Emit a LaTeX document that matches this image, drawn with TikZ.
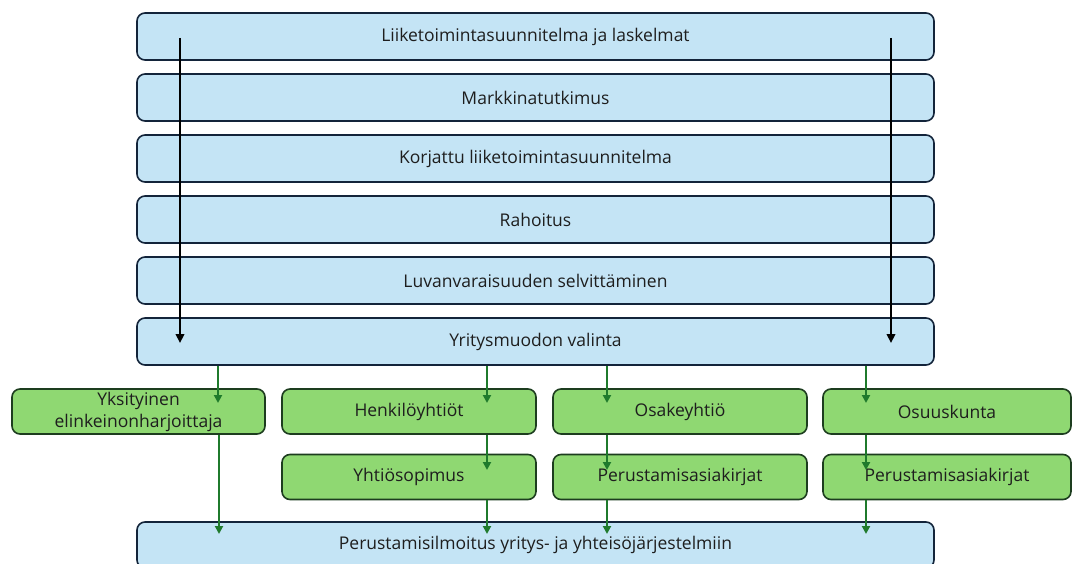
\documentclass[tikz,border=0pt]{standalone}
\usepackage{fontspec}
\setmainfont{Open Sans}
\usetikzlibrary{arrows.meta}
\definecolor{bluefill}{HTML}{C4E4F5}
\definecolor{blueedge}{HTML}{13243A}
\definecolor{greenfill}{HTML}{8FD872}
\definecolor{greenedge}{HTML}{1D3D1F}
\definecolor{garrowc}{HTML}{1F7A2C}
\definecolor{txt}{HTML}{1E1E1E}
\tikzset{
  bluebox/.style={draw=blueedge, fill=bluefill, line width=1.6pt, rounded corners=8pt,
    minimum width=797pt, minimum height=47pt, inner sep=0pt, text=txt,
    font=\fontsize{17.5}{22}\selectfont},
  greenbox/.style={draw=greenedge, fill=greenfill, line width=1.6pt, rounded corners=8pt,
    minimum height=45pt, inner sep=0pt, text=txt, align=center,
    font=\fontsize{17.5}{22}\selectfont},
  blackarrow/.style={draw=black, line width=2.6pt, -{Triangle[length=9pt,width=8.5pt]}},
  greenarrow/.style={draw=garrowc, line width=2.6pt, -{Triangle[length=8pt,width=8pt]}}
}
\begin{document}
\begin{tikzpicture}[x=1pt,y=-1pt]
\useasboundingbox (0,0) rectangle (1074,564);
\clip (0,0) rectangle (1074,564);
% blue boxes
\node[bluebox] (b1) at (535.5,36.5) {Liiketoimintasuunnitelma ja laskelmat};
\node[bluebox] (b2) at (535.5,97.5) {Markkinatutkimus};
\node[bluebox] (b3) at (535.5,158.5) {Korjattu liiketoimintasuunnitelma};
\node[bluebox] (b4) at (535.5,219.5) {Rahoitus};
\node[bluebox] (b5) at (535.5,280.5) {Luvanvaraisuuden selvittäminen};
\node[bluebox] (b6) at (535.5,341.5) {Yritysmuodon valinta};
\node[bluebox, minimum height=46pt] (b7) at (535.5,545) {Perustamisilmoitus yritys- ja yhteisöjärjestelmiin};
% green boxes
\node[greenbox, minimum width=253pt] (g1) at (138.5,411.5) {Yksityinen\\elinkeinonharjoittaja};
\node[greenbox, minimum width=254pt] (g2) at (409,411.5) {Henkilöyhtiöt};
\node[greenbox, minimum width=254pt] (g3) at (680,411.5) {Osakeyhtiö};
\node[greenbox, minimum width=248pt] (g4) at (947,411.5) {Osuuskunta};
\node[greenbox, minimum width=254pt] (h2) at (409,477) {Yhtiösopimus};
\node[greenbox, minimum width=254pt] (h3) at (680,477) {Perustamisasiakirjat};
\node[greenbox, minimum width=248pt] (h4) at (947,477) {Perustamisasiakirjat};
% black arrows
\coordinate (la) at (180,38);
\coordinate (lb) at (180,343);
\coordinate (ra) at (891,38);
\coordinate (rb) at (891,343);
\draw[blackarrow] (la) -- (lb);
\draw[blackarrow] (ra) -- (rb);
% green arrows: Yritysmuodon valinta -> forms
\coordinate (t1) at (218,403);
\coordinate (t2) at (487,403);
\coordinate (t3) at (607,403);
\coordinate (t4) at (866,403);
\draw[greenarrow] (b6.south -| t1) -- (t1);
\draw[greenarrow] (b6.south -| t2) -- (t2);
\draw[greenarrow] (b6.south -| t3) -- (t3);
\draw[greenarrow] (b6.south -| t4) -- (t4);
% forms -> documents
\coordinate (u2) at (487,470);
\coordinate (u3) at (607,470);
\coordinate (u4) at (866,470);
\draw[greenarrow] (g2.south -| u2) -- (u2);
\draw[greenarrow] (g3.south -| u3) -- (u3);
\draw[greenarrow] (g4.south -| u4) -- (u4);
% to registration
\coordinate (v1) at (219,534);
\coordinate (v2) at (487,534);
\coordinate (v3) at (607,534);
\coordinate (v4) at (866,534);
\draw[greenarrow] (g1.south -| v1) -- (v1);
\draw[greenarrow] (h2.south -| v2) -- (v2);
\draw[greenarrow] (h3.south -| v3) -- (v3);
\draw[greenarrow] (h4.south -| v4) -- (v4);
\end{tikzpicture}
\end{document}
